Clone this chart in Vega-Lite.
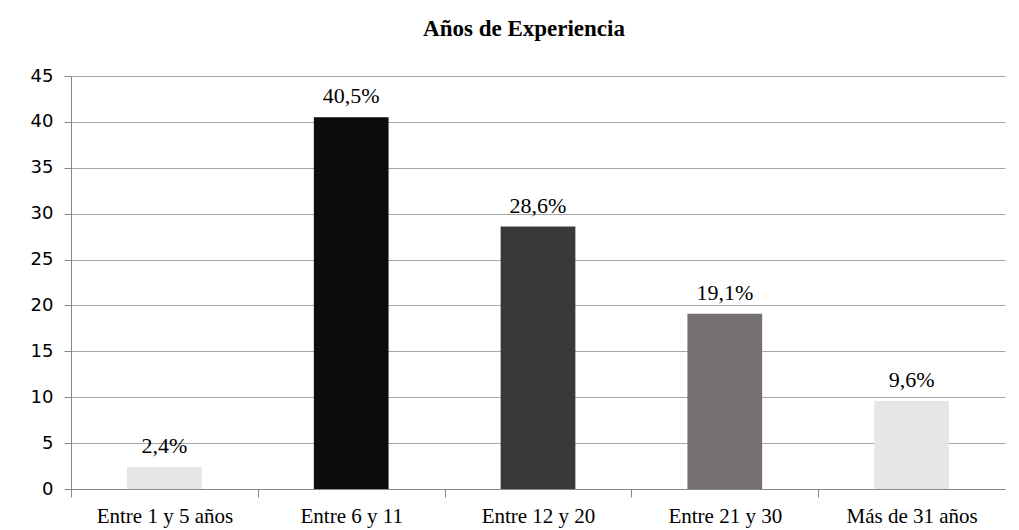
{
  "$schema": "https://vega.github.io/schema/vega-lite/v6.json",
  "autosize": "none",
  "width": 934,
  "height": 413,
  "padding": {"left": 71, "top": 76, "right": 14, "bottom": 41},
  "background": "white",
  "title": {
    "text": "Años de Experiencia",
    "font": "Liberation Serif",
    "fontSize": 23,
    "fontWeight": "bold",
    "color": "#000000",
    "anchor": "middle",
    "offset": 26,
    "dx": -14
  },
  "data": {
    "values": [
      {"cat": "Entre 1 y 5 años", "val": 2.4, "label": "2,4%", "color": "#e6e6e6"},
      {"cat": "Entre 6 y 11", "val": 40.5, "label": "40,5%", "color": "#0d0d0d"},
      {"cat": "Entre 12 y 20", "val": 28.6, "label": "28,6%", "color": "#3b3838"},
      {"cat": "Entre 21 y 30", "val": 19.1, "label": "19,1%", "color": "#767171"},
      {"cat": "Más de 31 años", "val": 9.6, "label": "9,6%", "color": "#e6e6e6"}
    ]
  },
  "encoding": {
    "x": {
      "field": "cat",
      "type": "nominal",
      "sort": null,
      "scale": {"paddingInner": 0.6, "paddingOuter": 0.3},
      "axis": {
        "title": null,
        "labelAngle": 0,
        "labelFont": "Liberation Serif",
        "labelFontSize": 21,
        "labelColor": "#000000",
        "labelPadding": 8,
        "tickOffset": -93.4,
        "labelOffset": 93.4,
        "tickSize": 8,
        "tickColor": "#888888",
        "domainColor": "#888888",
        "grid": false,
        "labelOverlap": false
      }
    },
    "y": {
      "field": "val",
      "type": "quantitative",
      "scale": {"domain": [0, 45], "nice": false},
      "axis": {
        "title": null,
        "values": [0, 5, 10, 15, 20, 25, 30, 35, 40, 45],
        "labelFont": "DejaVu Sans",
        "labelFontSize": 18,
        "labelColor": "#000000",
        "labelPadding": 11,
        "tickSize": 7,
        "tickColor": "#888888",
        "domainColor": "#888888",
        "gridColor": "#a6a6a6",
        "gridWidth": 1
      }
    }
  },
  "layer": [
    {
      "mark": {"type": "bar"},
      "encoding": {
        "color": {"field": "color", "type": "nominal", "scale": null}
      }
    },
    {
      "mark": {
        "type": "text",
        "font": "Times New Roman",
        "fontSize": 22,
        "baseline": "alphabetic",
        "dy": -14,
        "color": "#000000"
      },
      "encoding": {
        "text": {"field": "label", "type": "nominal"}
      }
    }
  ],
  "config": {
    "view": {"stroke": null}
  }
}
